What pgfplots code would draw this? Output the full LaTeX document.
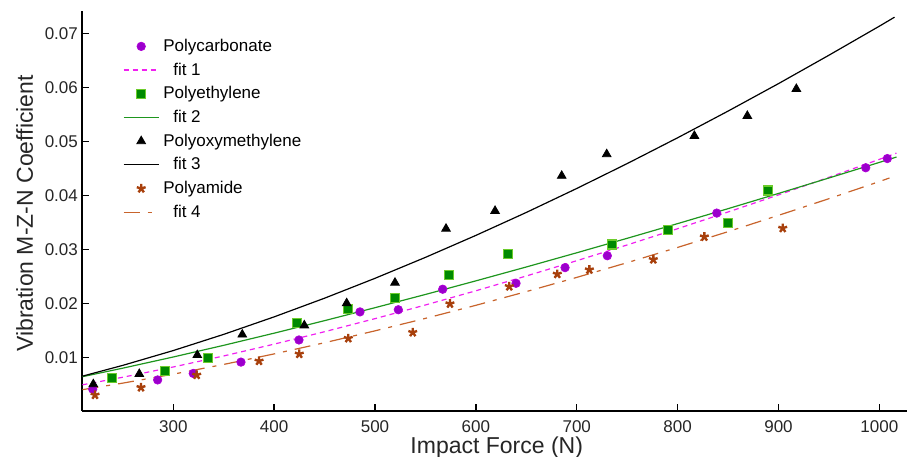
\documentclass[border=0pt]{standalone}
\usepackage{fontspec}
\setmainfont{Liberation Sans}
\usepackage{pgfplots}
\pgfplotsset{compat=1.18}
\usetikzlibrary{calc}

\definecolor{pcfill}{HTML}{9A00CC}
\definecolor{fitone}{HTML}{F020F0}
\definecolor{pefill}{HTML}{008A00}
\definecolor{peedge}{HTML}{6CCC2C}
\definecolor{fittwo}{HTML}{1E961E}
\definecolor{pafill}{HTML}{A8400C}
\definecolor{fitfour}{HTML}{C8642C}

\begin{document}
\begin{tikzpicture}
\begin{axis}[
    scale only axis,
    width=412.35bp, height=199.85bp,
    xmin=209.8, xmax=1027.4,
    ymin=0.0001, ymax=0.07413,
    axis x line*=bottom, axis y line*=left,
    axis line style={line width=0.8bp, black},
    xtick={300,400,...,1000},
    ytick={0.01,0.02,...,0.07},
    scaled y ticks=false,
    tick align=inside,
    major tick length=3.5bp,
    tick style={line width=0.7bp, black},
    /pgf/number format/assume math mode=true,
    /pgf/number format/1000 sep={},
    yticklabel style={/pgf/number format/fixed, /pgf/number format/fixed zerofill, /pgf/number format/precision=2, xshift=1.3bp},
    xticklabel style={yshift=-1.5bp},
    tick label style={font=\fontsize{8.5bp}{10bp}\selectfont, text=black!85},
    xlabel={Impact Force (N)},
    ylabel={Vibration M-Z-N Coefficient},
    label style={font=\fontsize{11.5bp}{13bp}\selectfont, text=black!85},
    xlabel style={at={(axis description cs:0.5025,-0.1083)}, anchor=base},
    ylabel style={at={(axis description cs:-0.0598,0.4934)}, anchor=base},
    legend style={at={(0.049,0.935)}, anchor=north west, draw=none, fill=none,
        inner sep=0pt, row sep=2.85bp, column sep=2bp,
        font=\fontsize{8.5bp}{10bp}\selectfont,
        nodes={inner sep=0pt, text height=7bp, text depth=2bp}},
    legend cell align=left,
    legend image code/.code={\draw[mark repeat=2,mark phase=2] plot coordinates {(0bp,0bp) (8.75bp,0bp) (17.5bp,0bp)};},
]
% Polycarbonate
\addplot[only marks, mark=*, mark size=2.1bp, mark options={fill=pcfill, draw=pcfill!80!magenta}] coordinates {
(220.1,0.0041) (284.5,0.0058) (319.8,0.0070) (367.1,0.0091) (424.6,0.0132)
(485.1,0.0184) (523.1,0.0188) (567.1,0.0226) (639.8,0.0237) (688.4,0.0266)
(730.3,0.0288) (838.8,0.0367) (986.5,0.0451) (1007.9,0.0468)};
\addlegendentry{Polycarbonate}
\addplot[fitone, line width=0.6bp, dash pattern=on 2.5bp off 2bp] coordinates {
(210,0.00490) (250,0.00630) (300,0.00820) (350,0.01024) (400,0.01243) (450,0.01473)
(500,0.01715) (550,0.01968) (600,0.02231) (650,0.02505) (700,0.02788) (750,0.03080)
(800,0.03381) (850,0.03690) (900,0.04007) (950,0.04333) (1000,0.04665) (1017,0.04781)};
\addlegendentry{\hspace*{5bp}fit 1}
% Polyethylene
\addplot[only marks, mark=square*, mark size=2.25bp, mark options={fill=pefill, draw=peedge, line width=0.6bp}] coordinates {
(239.5,0.0061) (291.8,0.0075) (334.7,0.0098) (422.9,0.0164) (472.9,0.0189)
(519.8,0.0209) (573.4,0.0252) (631.5,0.0291) (734.7,0.0309) (790.2,0.0336)
(849.7,0.0349) (889.9,0.0409)};
\addlegendentry{Polyethylene}
\addplot[fittwo, line width=0.6bp] coordinates {
(210,0.00640) (250,0.00798) (300,0.01005) (350,0.01221) (400,0.01446) (450,0.01678)
(500,0.01918) (550,0.02163) (600,0.02415) (650,0.02672) (700,0.02935) (750,0.03203)
(800,0.03475) (850,0.03752) (900,0.04034) (950,0.04320) (1000,0.04609) (1017,0.04708)};
\addlegendentry{\hspace*{5bp}fit 2}
% Polyoxymethylene
\addplot[only marks, mark=triangle*, mark size=2.5bp, mark options={fill=black, draw=black}] coordinates {
(220.7,0.0050) (266.3,0.0069) (323.8,0.0104) (368.4,0.0142) (429.9,0.0159)
(471.9,0.0200) (519.8,0.0238) (570.4,0.0338) (619.0,0.0371) (685.1,0.0436)
(729.7,0.0476) (816.6,0.0510) (869.1,0.0547) (917.7,0.0597)};
\addlegendentry{Polyoxymethylene}
\addplot[black, line width=0.6bp] coordinates {
(210,0.00650) (250,0.00850) (300,0.01124) (350,0.01424) (400,0.01748) (450,0.02094)
(500,0.02462) (550,0.02850) (600,0.03257) (650,0.03682) (700,0.04126) (750,0.04587)
(800,0.05065) (850,0.05559) (900,0.06068) (950,0.06594) (1000,0.07132) (1015,0.07298)};
\addlegendentry{\hspace*{5bp}fit 3}
% Polyamide
\addplot[only marks, mark=star, mark size=2.3bp, mark options={draw=pafill, line width=1.2bp}] coordinates {
(222.4,0.0030) (268.0,0.0044) (323.2,0.0067) (385.0,0.0093) (424.9,0.0106)
(473.5,0.0135) (537.4,0.0146) (574.3,0.0199) (633.1,0.0231) (680.7,0.0254)
(712.5,0.0262) (775.9,0.0281) (826.5,0.0323) (904.2,0.0339)};
\addlegendentry{Polyamide}
\addplot[fitfour, line width=0.6bp, dash pattern=on 8bp off 4bp on 2bp off 4bp] coordinates {
(210,0.00400) (250,0.00521) (300,0.00687) (350,0.00867) (400,0.01062) (450,0.01269)
(500,0.01489) (550,0.01720) (600,0.01962) (650,0.02216) (700,0.02479) (750,0.02752)
(800,0.03034) (850,0.03326) (900,0.03628) (950,0.03937) (1000,0.04254) (1010,0.04320)};
\addlegendentry{\hspace*{5bp}fit 4}
\coordinate (SW) at (rel axis cs:0,0);
\end{axis}
\pgfresetboundingbox
\path[use as bounding box] ($(SW)+(-41.15bp,-23.15bp)$) rectangle ++(453.5bp,228.5bp);
\end{tikzpicture}
\end{document}
